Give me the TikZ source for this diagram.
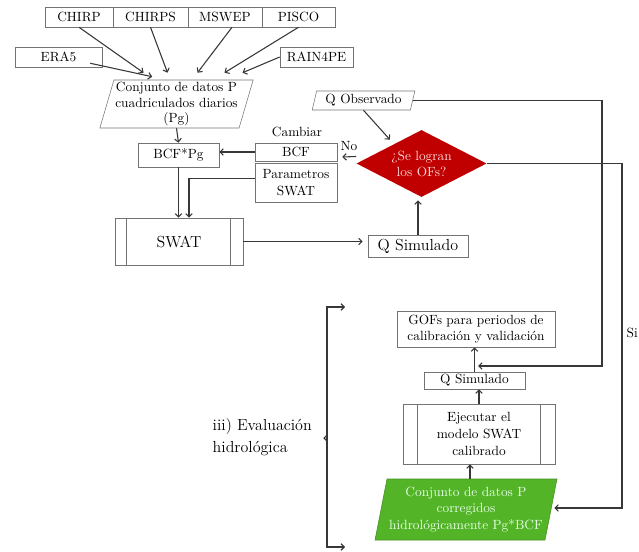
\documentclass[tikz,border=0pt]{standalone}
\usetikzlibrary{arrows.meta, positioning, calc, shapes.geometric}
\definecolor{ofred}{RGB}{192,0,0}
\definecolor{bcfgreen}{RGB}{84,180,40}
\definecolor{linegray}{RGB}{55,55,55}
\tikzset{
  box/.style={draw=black!55, fill=white, inner sep=1pt, minimum height=15pt, align=center,
    font=\fontsize{10}{12.5}\selectfont},
  datos/.style={draw=black!55, trapezium, trapezium left angle=73, trapezium right angle=107,
    trapezium stretches body, inner sep=1pt, align=center, font=\fontsize{10}{11.5}\selectfont},
  proceso/.style={box, font=\large},
  decision/.style={diamond, fill=ofred, text=red!15, inner sep=0pt, aspect=1.9, align=center},
  arr/.style={-{Straight Barb[length=2.5pt,width=5pt]}, linegray, thick},
  linea/.style={linegray, thick},
}

\begin{document}
\begin{tikzpicture}[x=0.75pt, y=-0.75pt]
    \useasboundingbox (0,0) rectangle (639,552);
    % productos de precipitacion
    \node[box, minimum width=51pt] (chirp) at (79,17) {CHIRP};
    \node[box, minimum width=56.25pt] (chirps) at (150.5,17) {CHIRPS};
    \node[box, minimum width=55.5pt] (mswep) at (225,17) {MSWEP};
    \node[box, minimum width=54.75pt] (pisco) at (298.5,17) {PISCO};
    \node[box, minimum width=65.25pt] (era5) at (58.5,57) {ERA5};
    \node[box, minimum width=54.75pt] (rain4pe) at (316.5,57) {RAIN4PE};
    \node[datos, minimum width=110pt, minimum height=36pt] (pg) at (176.5,104)
      {Conjunto de datos P\\cuadriculados diarios\\(Pg)};
    % ciclo de calibracion
    \node[box, minimum width=60.75pt, minimum height=18pt] (bcfpg) at (178.5,155) {BCF*Pg};
    \node (cambiar) at (297,132) {Cambiar};
    \node[box, minimum width=61.5pt, minimum height=13.5pt] (bcf) at (296,152) {BCF};
    \node[box, minimum width=61.5pt, minimum height=29.25pt] (param) at (296,182.5) {Parametros\\SWAT};
    \node[proceso, minimum width=96pt, minimum height=35.25pt] (swat) at (179,241.5) {SWAT};
    \node[box, font=\large, minimum width=75pt, minimum height=16.5pt] (qsim) at (418,246) {Q Simulado};
    \node[decision, minimum width=97.5pt, minimum height=50.25pt] (ofs) at (421.5,163.5) {¿Se logran\\los OFs?};
    \node[datos, minimum width=77pt, minimum height=14.25pt] (qobs) at (363.5,100.5) {Q Observado};
    \node (no) at (349,146) {No};
    % evaluacion hidrologica
    \node[box, minimum width=118.5pt, minimum height=27pt] (gof) at (476,329)
      {GOFs para periodos de\\calibración y validación};
    \node[box, minimum width=75.75pt, minimum height=12.75pt] (qsim2) at (474.5,380.5) {Q Simulado};
    \node[box, minimum width=114pt, minimum height=45pt] (ejec) at (479,434)
      {Ejecutar el\\modelo SWAT\\calibrado};
    \node[datos, fill=bcfgreen, draw=bcfgreen!80!black, text=white!90!green, trapezium left angle=76,
      trapezium right angle=104, minimum width=136.5pt, minimum height=45.75pt,
      font=\fontsize{10}{12.5}\selectfont] (green) at (466,509.5)
      {Conjunto de datos P\\corregidos\\hidrológicamente Pg*BCF};
    \node[anchor=west, align=left, font=\fontsize{12}{16}\selectfont] (eval) at (208,437)
      {iii) Evaluación\\hidrológica};
    \node[anchor=west, inner sep=1pt] (si) at (625,333) {Si};
    % lineas interiores de los procesos
    \draw[black!55] ($(swat.north west)+(12,0)$) -- ($(swat.south west)+(12,0)$);
    \draw[black!55] ($(swat.north east)+(-13,0)$) -- ($(swat.south east)+(-13,0)$);
    \draw[black!55] ($(ejec.north west)+(15,0)$) -- ($(ejec.south west)+(15,0)$);
    \draw[black!55] ($(ejec.north east)+(-15,0)$) -- ($(ejec.south east)+(-15,0)$);
    % conectores
    \draw[arr] (chirp.south) -- ($(pg.north)+(-33,-7)$);
    \draw[arr] (chirps.south) -- ($(pg.north)+(-9,-7)$);
    \draw[arr] ($(mswep.south)+(7,0)$) -- ($(pg.north)+(21,-7)$);
    \draw[arr] (pisco.south) -- ($(pg.north)+(48,-7)$);
    \draw[arr] (rain4pe.west) -- ($(pg.north)+(66,-7)$);
    \draw[arr] ($(era5.south east)+(-12,-4)$) -- ($(pg.north west)+(0,-3)$);
    \draw[arr] (pg.south) -- (bcfpg.north);
    \draw[arr] (bcf.west) -- (bcf.west -| bcfpg.east);
    \draw[arr] ($(ofs.west)+(0,-7)$) -- ($(bcf.east)+(5,5)$);
    \draw[arr] (bcfpg.south) -- (bcfpg.south |- swat.north);
    \draw[arr] ($(param.west)+(0,-4)$) -| ($(swat.north)+(10,0)$);
    \draw[arr] (swat.east) -- ($(swat.east -| qsim.west)+(-5,0)$);
    \draw[arr] (qsim.north) -- ($(qsim.north |- ofs.south)+(0,3)$);
    \draw[arr] (qobs.south) -- ($(ofs.north west)+(1,-7)$);
    \coordinate (obsturn) at (602,366);
    \coordinate (siturn) at (622,508);
    \draw[arr] (qobs.east) -| (obsturn) -- ($(obsturn -| gof.south)+(2,0)$);
    \draw[arr] (ofs.east) -| (siturn) -- ($(siturn -| green.east)+(3,0)$);
    \draw[arr] (qsim2.north) -- (qsim2.north |- gof.south);
    \draw[arr] (ejec.north) -- (ejec.north |- qsim2.south);
    \draw[arr] ($(green.north)+(4,0)$) -- ($(green.north |- ejec.south)+(4,0)$);
    % llave de la evaluacion
    \coordinate (brtop) at (327,307);
    \coordinate (brbot) at (327,547);
    \coordinate (brmid) at (327,438);
    \draw[arr] (brmid) |- ($(brtop)+(18,0)$);
    \draw[arr] (brmid) |- ($(brbot)+(18,0)$);
    \draw[linea] ($(brmid)+(0,-3)$) -- ($(brmid)+(-3,0)$) -- ($(brmid)+(0,3)$);
\end{tikzpicture}
\end{document}
